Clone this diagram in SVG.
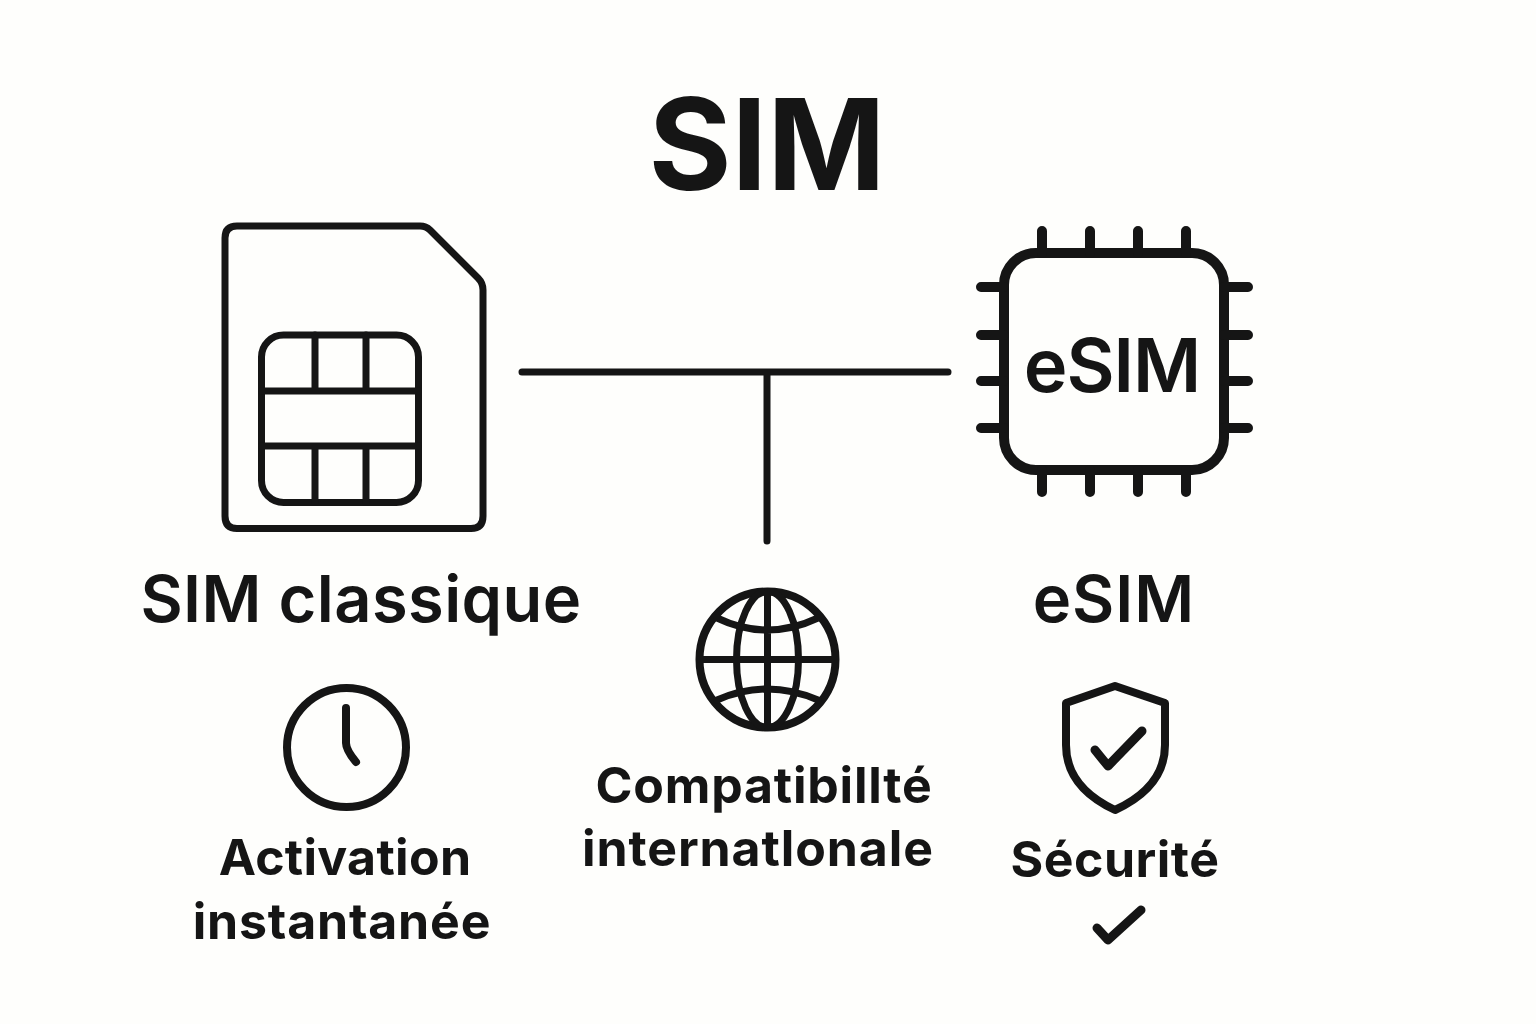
<svg xmlns="http://www.w3.org/2000/svg" width="1536" height="1024" viewBox="0 0 1536 1024">
<style>
.s{fill:none;stroke:#151515;stroke-width:7;stroke-linecap:round;stroke-linejoin:round}
.w8{stroke-width:8}
.w9{stroke-width:9}
.w10{stroke-width:10}
.t{font-family:Inter,"Liberation Sans",sans-serif;font-weight:600;fill:#151515;text-anchor:middle}
.l{font-size:50px;font-weight:700}
</style>
<rect width="1536" height="1024" fill="#fefefc"/>
<text class="t" x="767" y="190" font-size="127" style="font-weight:750">SIM</text>
<g id="sim-card">
<path class="s" d="M237 226H420Q426 226 430 230L478 278Q483 283 483 290V516Q483 528.500 471 528.500H237Q225 528.500 225 516V238Q225 226 237 226Z"/>
<rect class="s" x="261.500" y="335" width="157" height="167.500" rx="22"/>
<path class="s" d="M261.500 391H418.500M261.500 446H418.500M315 335V391M366 335V391M315 446V502.500M366 446V502.500"/>
<text class="t" x="361" y="622" font-size="65" letter-spacing=".4">SIM classique</text>
</g>
<g id="connectors">
<path class="s" d="M522 372H948M767 372V541"/>
</g>
<g id="esim-chip">
<rect class="s w10" x="1004" y="253" width="220" height="217" rx="32"/>
<path class="s w10" d="M1042 231V253M1090 231V253M1138 231V253M1186 231V253M1042 470V492M1090 470V492M1138 470V492M1186 470V492M981 287H1004M981 335H1004M981 381H1004M981 428H1004M1224 287H1248M1224 335H1248M1224 381H1248M1224 428H1248"/>
<text class="t" x="1112" y="392" font-size="74" letter-spacing="-1">eSIM</text>
<text class="t" x="1114" y="622" font-size="65" letter-spacing="1">eSIM</text>
</g>
<g id="activation">
<circle class="s w8" cx="346.500" cy="747.500" r="59.500"/>
<path class="s w8" d="M346 708V743Q346 750 356 762"/>
<text class="t l" x="345" y="875" letter-spacing=".3">Activation</text>
<text class="t l" x="342" y="939" letter-spacing=".8">instantanée</text>
</g>
<g id="compat">
<circle class="s w8" cx="767.500" cy="659.500" r="68"/>
<ellipse class="s" cx="767.500" cy="659.500" rx="31" ry="68"/>
<path class="s" d="M767.500 591.500V727.500M699.500 659.500H835.500M717 618Q767 642 818 618M717 700Q767 678 818 700"/>
<text class="t l" x="764" y="803" letter-spacing=".8">Compatibillté</text>
<text class="t l" x="758" y="866" letter-spacing=".9">internatlonale</text>
</g>
<g id="security">
<path class="s w8" d="M1115 686L1165 703V745Q1165 787 1115 810Q1066 787 1066 745V703Z"/>
<path class="s w9" d="M1095 750L1108 766L1142 731"/>
<text class="t l" x="1115" y="877" letter-spacing=".5">Sécurité</text>
<path class="s w9" d="M1097 928L1108 940L1141 910"/>
</g>
</svg>
